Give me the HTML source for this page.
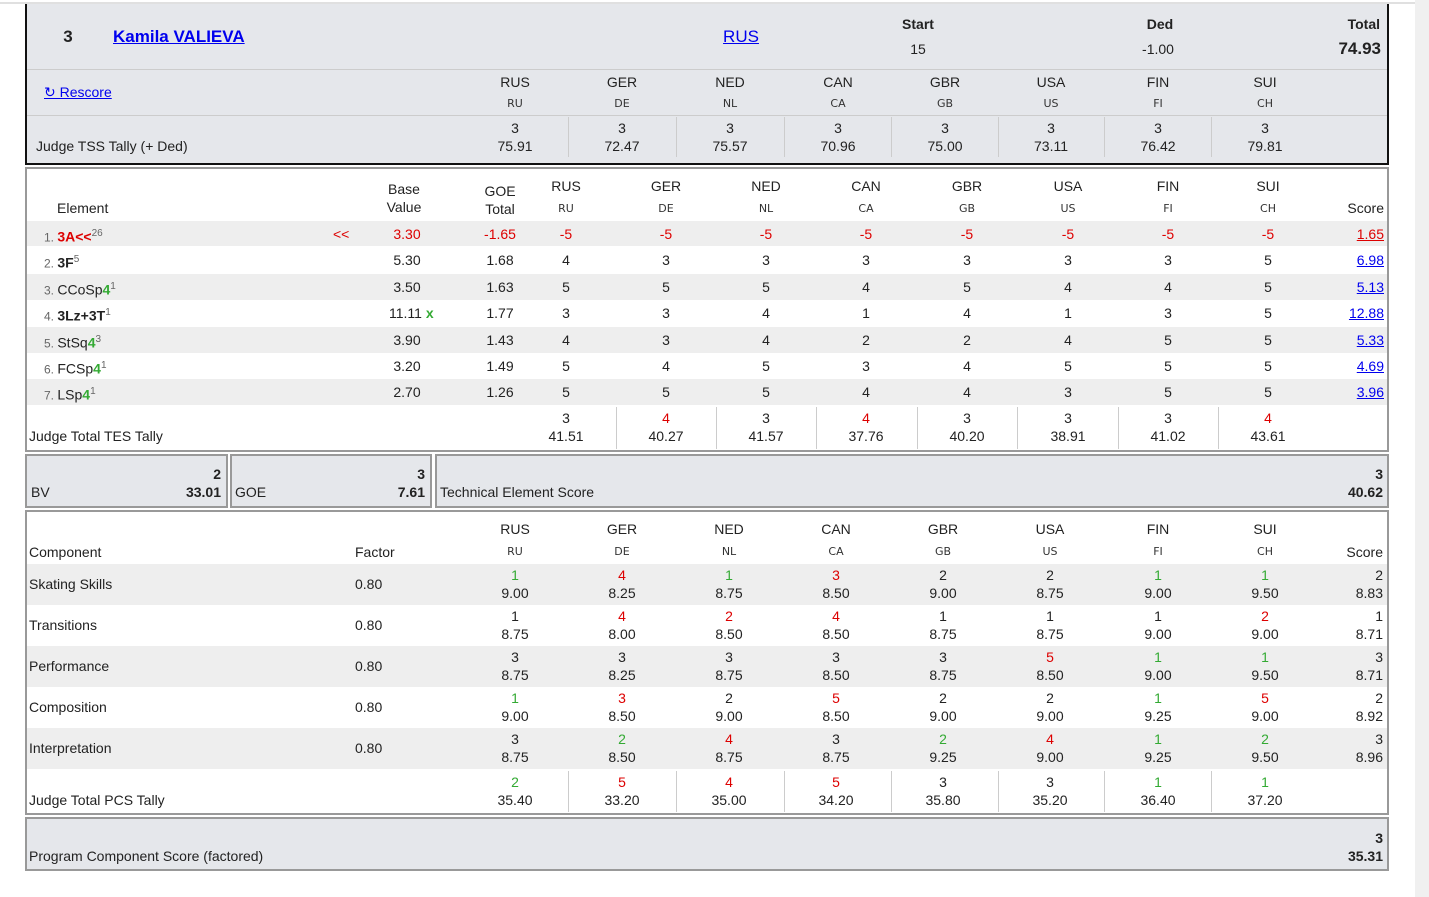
<!DOCTYPE html>
<html><head><meta charset="utf-8"><style>
body{margin:0;width:1429px;height:897px;position:relative;background:#fff;font-family:"Liberation Sans",sans-serif;font-size:14px;color:#222;overflow:hidden}
div,span{position:absolute}
.t{white-space:nowrap;line-height:16px;transform:translateY(-8px)}
.c{transform:translate(-50%,-8px)}
.r{transform:translate(-100%,-8px)}
.k{font-size:11px;font-weight:bold;color:#333;font-family:"DejaVu Sans",sans-serif;font-weight:normal}
.b{font-weight:bold}
.red{color:#d00}.grn{color:#3a3}.lnk{color:#00e;text-decoration:underline}
.box{box-sizing:border-box}
.st{background:#eee;left:2px;right:2px}
.sep{width:1px;background:#ccc}
</style></head><body>
<div style="left:1415px;top:0;width:14px;height:897px;background:#f0f0f0"></div>
<div style="left:0;top:2px;width:1415px;height:2px;background:#e0e0e0"></div>

<!-- top box -->
<div class="box" style="left:25px;top:4px;width:1364px;height:161px;background:#e5e7eb;border:2px solid #111;border-top:none"></div>
<div style="left:27px;top:69px;width:1360px;height:1px;background:#ccc"></div>
<div style="left:27px;top:115px;width:1360px;height:1px;background:#ccc"></div>
<div class="sep" style="left:568px;top:117px;height:40px"></div><div class="sep" style="left:676px;top:117px;height:40px"></div><div class="sep" style="left:784px;top:117px;height:40px"></div><div class="sep" style="left:891px;top:117px;height:40px"></div><div class="sep" style="left:998px;top:117px;height:40px"></div><div class="sep" style="left:1104px;top:117px;height:40px"></div><div class="sep" style="left:1211px;top:117px;height:40px"></div>
<span class="t c b" style="left:68px;top:37px;font-size:17px">3</span>
<span class="t b lnk" style="left:113px;top:37px;font-size:17px">Kamila VALIEVA</span>
<span class="t c lnk" style="left:741px;top:37px;font-size:17px">RUS</span>
<span class="t c b" style="left:918px;top:24px">Start</span><span class="t c" style="left:918px;top:49px">15</span>
<span class="t c b" style="left:1160px;top:24px">Ded</span><span class="t c" style="left:1158px;top:49px">-1.00</span>
<span class="t r b" style="left:1380px;top:24px">Total</span><span class="t r b" style="left:1381px;top:49px;font-size:17px">74.93</span>
<span class="t lnk" style="left:44px;top:92px">↻ Rescore</span>
<span class="t" style="left:36px;top:146px">Judge TSS Tally (+ Ded)</span>
<span class="t c" style="left:515px;top:82px">RUS</span><span class="t c k" style="left:515px;top:104px">RU</span><span class="t c" style="left:515px;top:128px">3</span><span class="t c" style="left:515px;top:146px">75.91</span>
<span class="t c" style="left:622px;top:82px">GER</span><span class="t c k" style="left:622px;top:104px">DE</span><span class="t c" style="left:622px;top:128px">3</span><span class="t c" style="left:622px;top:146px">72.47</span>
<span class="t c" style="left:730px;top:82px">NED</span><span class="t c k" style="left:730px;top:104px">NL</span><span class="t c" style="left:730px;top:128px">3</span><span class="t c" style="left:730px;top:146px">75.57</span>
<span class="t c" style="left:838px;top:82px">CAN</span><span class="t c k" style="left:838px;top:104px">CA</span><span class="t c" style="left:838px;top:128px">3</span><span class="t c" style="left:838px;top:146px">70.96</span>
<span class="t c" style="left:945px;top:82px">GBR</span><span class="t c k" style="left:945px;top:104px">GB</span><span class="t c" style="left:945px;top:128px">3</span><span class="t c" style="left:945px;top:146px">75.00</span>
<span class="t c" style="left:1051px;top:82px">USA</span><span class="t c k" style="left:1051px;top:104px">US</span><span class="t c" style="left:1051px;top:128px">3</span><span class="t c" style="left:1051px;top:146px">73.11</span>
<span class="t c" style="left:1158px;top:82px">FIN</span><span class="t c k" style="left:1158px;top:104px">FI</span><span class="t c" style="left:1158px;top:128px">3</span><span class="t c" style="left:1158px;top:146px">76.42</span>
<span class="t c" style="left:1265px;top:82px">SUI</span><span class="t c k" style="left:1265px;top:104px">CH</span><span class="t c" style="left:1265px;top:128px">3</span><span class="t c" style="left:1265px;top:146px">79.81</span>

<!-- elements box -->
<div class="box" style="left:25px;top:167px;width:1364px;height:285px;border:2px solid #999"></div>
<div class="st" style="left:27px;width:1360px;top:221px;height:25px"></div>
<div class="st" style="left:27px;width:1360px;top:274px;height:26px"></div>
<div class="st" style="left:27px;width:1360px;top:327px;height:26px"></div>
<div class="st" style="left:27px;width:1360px;top:379px;height:26px"></div>
<div class="sep" style="left:616px;top:407px;height:42px"></div><div class="sep" style="left:716px;top:407px;height:42px"></div><div class="sep" style="left:816px;top:407px;height:42px"></div><div class="sep" style="left:917px;top:407px;height:42px"></div><div class="sep" style="left:1017px;top:407px;height:42px"></div><div class="sep" style="left:1118px;top:407px;height:42px"></div><div class="sep" style="left:1218px;top:407px;height:42px"></div>
<span class="t" style="left:57px;top:208px">Element</span>
<span class="t c" style="left:404px;top:189px">Base</span><span class="t c" style="left:404px;top:207px">Value</span>
<span class="t c" style="left:500px;top:191px">GOE</span><span class="t c" style="left:500px;top:209px">Total</span>
<span class="t r" style="left:1384px;top:208px">Score</span>
<span class="t c" style="left:566px;top:186px">RUS</span><span class="t c k" style="left:566px;top:209px">RU</span>
<span class="t c" style="left:666px;top:186px">GER</span><span class="t c k" style="left:666px;top:209px">DE</span>
<span class="t c" style="left:766px;top:186px">NED</span><span class="t c k" style="left:766px;top:209px">NL</span>
<span class="t c" style="left:866px;top:186px">CAN</span><span class="t c k" style="left:866px;top:209px">CA</span>
<span class="t c" style="left:967px;top:186px">GBR</span><span class="t c k" style="left:967px;top:209px">GB</span>
<span class="t c" style="left:1068px;top:186px">USA</span><span class="t c k" style="left:1068px;top:209px">US</span>
<span class="t c" style="left:1168px;top:186px">FIN</span><span class="t c k" style="left:1168px;top:209px">FI</span>
<span class="t c" style="left:1268px;top:186px">SUI</span><span class="t c k" style="left:1268px;top:209px">CH</span>

<span class="t" style="left:44px;top:234px"><span style="position:static;font-size:12px;color:#666">1. </span><b class="red">3A&lt;&lt;</b><sup style="font-size:10px;color:#666">26</sup></span>
<span class="t red" style="left:333px;top:234px">&lt;&lt;</span>
<span class="t c red" style="left:407px;top:234px">3.30</span><span class="t c red" style="left:500px;top:234px">-1.65</span>
<span class="t c red" style="left:566px;top:234px">-5</span><span class="t c red" style="left:666px;top:234px">-5</span><span class="t c red" style="left:766px;top:234px">-5</span><span class="t c red" style="left:866px;top:234px">-5</span><span class="t c red" style="left:967px;top:234px">-5</span><span class="t c red" style="left:1068px;top:234px">-5</span><span class="t c red" style="left:1168px;top:234px">-5</span><span class="t c red" style="left:1268px;top:234px">-5</span>
<span class="t r" style="left:1384px;top:234px;color:#d00;text-decoration:underline">1.65</span>

<span class="t" style="left:44px;top:260px"><span style="position:static;font-size:12px;color:#666">2. </span><b>3F</b><sup style="font-size:10px;color:#666">5</sup></span>
<span class="t c" style="left:407px;top:260px">5.30</span><span class="t c" style="left:500px;top:260px">1.68</span>
<span class="t c" style="left:566px;top:260px">4</span><span class="t c" style="left:666px;top:260px">3</span><span class="t c" style="left:766px;top:260px">3</span><span class="t c" style="left:866px;top:260px">3</span><span class="t c" style="left:967px;top:260px">3</span><span class="t c" style="left:1068px;top:260px">3</span><span class="t c" style="left:1168px;top:260px">3</span><span class="t c" style="left:1268px;top:260px">5</span>
<span class="t r lnk" style="left:1384px;top:260px">6.98</span>

<span class="t" style="left:44px;top:287px"><span style="position:static;font-size:12px;color:#666">3. </span>CCoSp<b class="grn">4</b><sup style="font-size:10px;color:#666">1</sup></span>
<span class="t c" style="left:407px;top:287px">3.50</span><span class="t c" style="left:500px;top:287px">1.63</span>
<span class="t c" style="left:566px;top:287px">5</span><span class="t c" style="left:666px;top:287px">5</span><span class="t c" style="left:766px;top:287px">5</span><span class="t c" style="left:866px;top:287px">4</span><span class="t c" style="left:967px;top:287px">5</span><span class="t c" style="left:1068px;top:287px">4</span><span class="t c" style="left:1168px;top:287px">4</span><span class="t c" style="left:1268px;top:287px">5</span>
<span class="t r lnk" style="left:1384px;top:287px">5.13</span>

<span class="t" style="left:44px;top:313px"><span style="position:static;font-size:12px;color:#666">4. </span><b>3Lz+3T</b><sup style="font-size:10px;color:#666">1</sup></span>
<span class="t" style="left:389px;top:313px">11.11 <b class="grn">x</b></span><span class="t c" style="left:500px;top:313px">1.77</span>
<span class="t c" style="left:566px;top:313px">3</span><span class="t c" style="left:666px;top:313px">3</span><span class="t c" style="left:766px;top:313px">4</span><span class="t c" style="left:866px;top:313px">1</span><span class="t c" style="left:967px;top:313px">4</span><span class="t c" style="left:1068px;top:313px">1</span><span class="t c" style="left:1168px;top:313px">3</span><span class="t c" style="left:1268px;top:313px">5</span>
<span class="t r lnk" style="left:1384px;top:313px">12.88</span>

<span class="t" style="left:44px;top:340px"><span style="position:static;font-size:12px;color:#666">5. </span>StSq<b class="grn">4</b><sup style="font-size:10px;color:#666">3</sup></span>
<span class="t c" style="left:407px;top:340px">3.90</span><span class="t c" style="left:500px;top:340px">1.43</span>
<span class="t c" style="left:566px;top:340px">4</span><span class="t c" style="left:666px;top:340px">3</span><span class="t c" style="left:766px;top:340px">4</span><span class="t c" style="left:866px;top:340px">2</span><span class="t c" style="left:967px;top:340px">2</span><span class="t c" style="left:1068px;top:340px">4</span><span class="t c" style="left:1168px;top:340px">5</span><span class="t c" style="left:1268px;top:340px">5</span>
<span class="t r lnk" style="left:1384px;top:340px">5.33</span>

<span class="t" style="left:44px;top:366px"><span style="position:static;font-size:12px;color:#666">6. </span>FCSp<b class="grn">4</b><sup style="font-size:10px;color:#666">1</sup></span>
<span class="t c" style="left:407px;top:366px">3.20</span><span class="t c" style="left:500px;top:366px">1.49</span>
<span class="t c" style="left:566px;top:366px">5</span><span class="t c" style="left:666px;top:366px">4</span><span class="t c" style="left:766px;top:366px">5</span><span class="t c" style="left:866px;top:366px">3</span><span class="t c" style="left:967px;top:366px">4</span><span class="t c" style="left:1068px;top:366px">5</span><span class="t c" style="left:1168px;top:366px">5</span><span class="t c" style="left:1268px;top:366px">5</span>
<span class="t r lnk" style="left:1384px;top:366px">4.69</span>

<span class="t" style="left:44px;top:392px"><span style="position:static;font-size:12px;color:#666">7. </span>LSp<b class="grn">4</b><sup style="font-size:10px;color:#666">1</sup></span>
<span class="t c" style="left:407px;top:392px">2.70</span><span class="t c" style="left:500px;top:392px">1.26</span>
<span class="t c" style="left:566px;top:392px">5</span><span class="t c" style="left:666px;top:392px">5</span><span class="t c" style="left:766px;top:392px">5</span><span class="t c" style="left:866px;top:392px">4</span><span class="t c" style="left:967px;top:392px">4</span><span class="t c" style="left:1068px;top:392px">3</span><span class="t c" style="left:1168px;top:392px">5</span><span class="t c" style="left:1268px;top:392px">5</span>
<span class="t r lnk" style="left:1384px;top:392px">3.96</span>

<span class="t" style="left:29px;top:436px">Judge Total TES Tally</span>
<span class="t c" style="left:566px;top:418px">3</span><span class="t c" style="left:566px;top:436px">41.51</span>
<span class="t c red" style="left:666px;top:418px">4</span><span class="t c" style="left:666px;top:436px">40.27</span>
<span class="t c" style="left:766px;top:418px">3</span><span class="t c" style="left:766px;top:436px">41.57</span>
<span class="t c red" style="left:866px;top:418px">4</span><span class="t c" style="left:866px;top:436px">37.76</span>
<span class="t c" style="left:967px;top:418px">3</span><span class="t c" style="left:967px;top:436px">40.20</span>
<span class="t c" style="left:1068px;top:418px">3</span><span class="t c" style="left:1068px;top:436px">38.91</span>
<span class="t c" style="left:1168px;top:418px">3</span><span class="t c" style="left:1168px;top:436px">41.02</span>
<span class="t c red" style="left:1268px;top:418px">4</span><span class="t c" style="left:1268px;top:436px">43.61</span>

<!-- BV boxes -->
<div class="box" style="left:25px;top:454px;width:203px;height:54px;background:#e5e7eb;border:2px solid #999"></div>
<div class="box" style="left:230px;top:454px;width:202px;height:54px;background:#e5e7eb;border:2px solid #999"></div>
<div class="box" style="left:435px;top:454px;width:954px;height:54px;background:#e5e7eb;border:2px solid #999"></div>
<span class="t r b" style="left:221px;top:474px">2</span><span class="t r b" style="left:221px;top:492px">33.01</span><span class="t" style="left:31px;top:492px">BV</span>
<span class="t r b" style="left:425px;top:474px">3</span><span class="t r b" style="left:425px;top:492px">7.61</span><span class="t" style="left:235px;top:492px">GOE</span>
<span class="t" style="left:440px;top:492px">Technical Element Score</span>
<span class="t r b" style="left:1383px;top:474px">3</span><span class="t r b" style="left:1383px;top:492px">40.62</span>

<!-- components box -->
<div class="box" style="left:25px;top:510px;width:1364px;height:305px;border:2px solid #999"></div>
<div class="st" style="left:27px;width:1360px;top:564px;height:41px"></div>
<div class="st" style="left:27px;width:1360px;top:646px;height:41px"></div>
<div class="st" style="left:27px;width:1360px;top:728px;height:41px"></div>
<div class="sep" style="left:568px;top:771px;height:41px"></div><div class="sep" style="left:676px;top:771px;height:41px"></div><div class="sep" style="left:784px;top:771px;height:41px"></div><div class="sep" style="left:891px;top:771px;height:41px"></div><div class="sep" style="left:998px;top:771px;height:41px"></div><div class="sep" style="left:1104px;top:771px;height:41px"></div><div class="sep" style="left:1211px;top:771px;height:41px"></div>
<span class="t" style="left:29px;top:552px">Component</span><span class="t" style="left:355px;top:552px">Factor</span><span class="t r" style="left:1383px;top:552px">Score</span>
<span class="t c" style="left:515px;top:529px">RUS</span><span class="t c k" style="left:515px;top:552px">RU</span>
<span class="t c" style="left:622px;top:529px">GER</span><span class="t c k" style="left:622px;top:552px">DE</span>
<span class="t c" style="left:729px;top:529px">NED</span><span class="t c k" style="left:729px;top:552px">NL</span>
<span class="t c" style="left:836px;top:529px">CAN</span><span class="t c k" style="left:836px;top:552px">CA</span>
<span class="t c" style="left:943px;top:529px">GBR</span><span class="t c k" style="left:943px;top:552px">GB</span>
<span class="t c" style="left:1050px;top:529px">USA</span><span class="t c k" style="left:1050px;top:552px">US</span>
<span class="t c" style="left:1158px;top:529px">FIN</span><span class="t c k" style="left:1158px;top:552px">FI</span>
<span class="t c" style="left:1265px;top:529px">SUI</span><span class="t c k" style="left:1265px;top:552px">CH</span>

<!-- SS -->
<span class="t" style="left:29px;top:584px">Skating Skills</span><span class="t" style="left:355px;top:584px">0.80</span>
<span class="t c grn" style="left:515px;top:575px">1</span><span class="t c" style="left:515px;top:593px">9.00</span>
<span class="t c red" style="left:622px;top:575px">4</span><span class="t c" style="left:622px;top:593px">8.25</span>
<span class="t c grn" style="left:729px;top:575px">1</span><span class="t c" style="left:729px;top:593px">8.75</span>
<span class="t c red" style="left:836px;top:575px">3</span><span class="t c" style="left:836px;top:593px">8.50</span>
<span class="t c" style="left:943px;top:575px">2</span><span class="t c" style="left:943px;top:593px">9.00</span>
<span class="t c" style="left:1050px;top:575px">2</span><span class="t c" style="left:1050px;top:593px">8.75</span>
<span class="t c grn" style="left:1158px;top:575px">1</span><span class="t c" style="left:1158px;top:593px">9.00</span>
<span class="t c grn" style="left:1265px;top:575px">1</span><span class="t c" style="left:1265px;top:593px">9.50</span>
<span class="t r" style="left:1383px;top:575px">2</span><span class="t r" style="left:1383px;top:593px">8.83</span>
<!-- TR -->
<span class="t" style="left:29px;top:625px">Transitions</span><span class="t" style="left:355px;top:625px">0.80</span>
<span class="t c" style="left:515px;top:616px">1</span><span class="t c" style="left:515px;top:634px">8.75</span>
<span class="t c red" style="left:622px;top:616px">4</span><span class="t c" style="left:622px;top:634px">8.00</span>
<span class="t c red" style="left:729px;top:616px">2</span><span class="t c" style="left:729px;top:634px">8.50</span>
<span class="t c red" style="left:836px;top:616px">4</span><span class="t c" style="left:836px;top:634px">8.50</span>
<span class="t c" style="left:943px;top:616px">1</span><span class="t c" style="left:943px;top:634px">8.75</span>
<span class="t c" style="left:1050px;top:616px">1</span><span class="t c" style="left:1050px;top:634px">8.75</span>
<span class="t c" style="left:1158px;top:616px">1</span><span class="t c" style="left:1158px;top:634px">9.00</span>
<span class="t c red" style="left:1265px;top:616px">2</span><span class="t c" style="left:1265px;top:634px">9.00</span>
<span class="t r" style="left:1383px;top:616px">1</span><span class="t r" style="left:1383px;top:634px">8.71</span>
<!-- PE -->
<span class="t" style="left:29px;top:666px">Performance</span><span class="t" style="left:355px;top:666px">0.80</span>
<span class="t c" style="left:515px;top:657px">3</span><span class="t c" style="left:515px;top:675px">8.75</span>
<span class="t c" style="left:622px;top:657px">3</span><span class="t c" style="left:622px;top:675px">8.25</span>
<span class="t c" style="left:729px;top:657px">3</span><span class="t c" style="left:729px;top:675px">8.75</span>
<span class="t c" style="left:836px;top:657px">3</span><span class="t c" style="left:836px;top:675px">8.50</span>
<span class="t c" style="left:943px;top:657px">3</span><span class="t c" style="left:943px;top:675px">8.75</span>
<span class="t c red" style="left:1050px;top:657px">5</span><span class="t c" style="left:1050px;top:675px">8.50</span>
<span class="t c grn" style="left:1158px;top:657px">1</span><span class="t c" style="left:1158px;top:675px">9.00</span>
<span class="t c grn" style="left:1265px;top:657px">1</span><span class="t c" style="left:1265px;top:675px">9.50</span>
<span class="t r" style="left:1383px;top:657px">3</span><span class="t r" style="left:1383px;top:675px">8.71</span>
<!-- CO -->
<span class="t" style="left:29px;top:707px">Composition</span><span class="t" style="left:355px;top:707px">0.80</span>
<span class="t c grn" style="left:515px;top:698px">1</span><span class="t c" style="left:515px;top:716px">9.00</span>
<span class="t c red" style="left:622px;top:698px">3</span><span class="t c" style="left:622px;top:716px">8.50</span>
<span class="t c" style="left:729px;top:698px">2</span><span class="t c" style="left:729px;top:716px">9.00</span>
<span class="t c red" style="left:836px;top:698px">5</span><span class="t c" style="left:836px;top:716px">8.50</span>
<span class="t c" style="left:943px;top:698px">2</span><span class="t c" style="left:943px;top:716px">9.00</span>
<span class="t c" style="left:1050px;top:698px">2</span><span class="t c" style="left:1050px;top:716px">9.00</span>
<span class="t c grn" style="left:1158px;top:698px">1</span><span class="t c" style="left:1158px;top:716px">9.25</span>
<span class="t c red" style="left:1265px;top:698px">5</span><span class="t c" style="left:1265px;top:716px">9.00</span>
<span class="t r" style="left:1383px;top:698px">2</span><span class="t r" style="left:1383px;top:716px">8.92</span>
<!-- IN -->
<span class="t" style="left:29px;top:748px">Interpretation</span><span class="t" style="left:355px;top:748px">0.80</span>
<span class="t c" style="left:515px;top:739px">3</span><span class="t c" style="left:515px;top:757px">8.75</span>
<span class="t c grn" style="left:622px;top:739px">2</span><span class="t c" style="left:622px;top:757px">8.50</span>
<span class="t c red" style="left:729px;top:739px">4</span><span class="t c" style="left:729px;top:757px">8.75</span>
<span class="t c" style="left:836px;top:739px">3</span><span class="t c" style="left:836px;top:757px">8.75</span>
<span class="t c grn" style="left:943px;top:739px">2</span><span class="t c" style="left:943px;top:757px">9.25</span>
<span class="t c red" style="left:1050px;top:739px">4</span><span class="t c" style="left:1050px;top:757px">9.00</span>
<span class="t c grn" style="left:1158px;top:739px">1</span><span class="t c" style="left:1158px;top:757px">9.25</span>
<span class="t c grn" style="left:1265px;top:739px">2</span><span class="t c" style="left:1265px;top:757px">9.50</span>
<span class="t r" style="left:1383px;top:739px">3</span><span class="t r" style="left:1383px;top:757px">8.96</span>
<!-- PCS tally -->
<span class="t" style="left:29px;top:800px">Judge Total PCS Tally</span>
<span class="t c grn" style="left:515px;top:782px">2</span><span class="t c" style="left:515px;top:800px">35.40</span>
<span class="t c red" style="left:622px;top:782px">5</span><span class="t c" style="left:622px;top:800px">33.20</span>
<span class="t c red" style="left:729px;top:782px">4</span><span class="t c" style="left:729px;top:800px">35.00</span>
<span class="t c red" style="left:836px;top:782px">5</span><span class="t c" style="left:836px;top:800px">34.20</span>
<span class="t c" style="left:943px;top:782px">3</span><span class="t c" style="left:943px;top:800px">35.80</span>
<span class="t c" style="left:1050px;top:782px">3</span><span class="t c" style="left:1050px;top:800px">35.20</span>
<span class="t c grn" style="left:1158px;top:782px">1</span><span class="t c" style="left:1158px;top:800px">36.40</span>
<span class="t c grn" style="left:1265px;top:782px">1</span><span class="t c" style="left:1265px;top:800px">37.20</span>

<!-- PCS box -->
<div class="box" style="left:25px;top:817px;width:1364px;height:54px;background:#e5e7eb;border:2px solid #999"></div>
<span class="t" style="left:29px;top:856px">Program Component Score (factored)</span>
<span class="t r b" style="left:1383px;top:838px">3</span><span class="t r b" style="left:1383px;top:856px">35.31</span>
</body></html>
